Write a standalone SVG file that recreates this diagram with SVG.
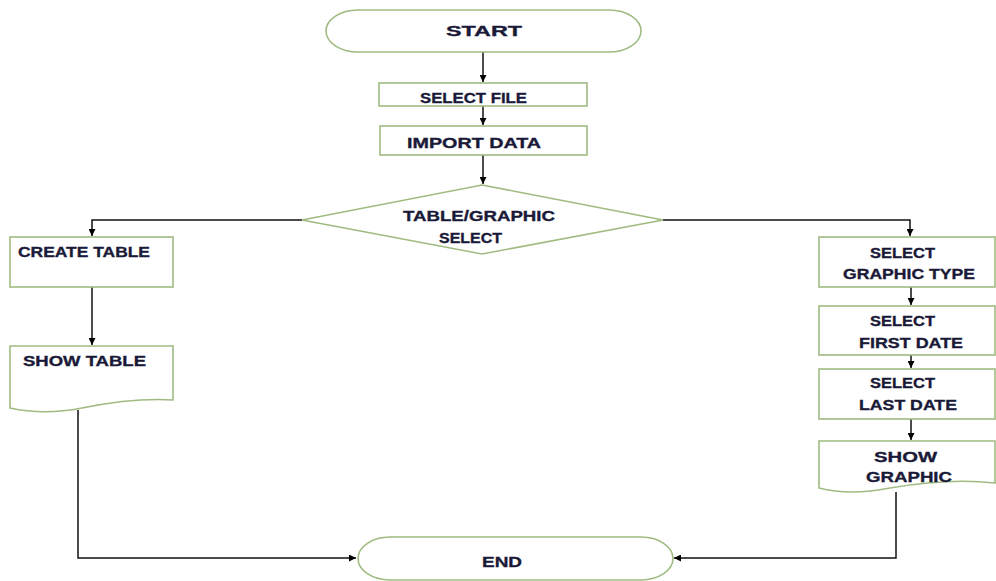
<svg xmlns="http://www.w3.org/2000/svg" width="996" height="581" viewBox="0 0 996 581">
<defs>
<marker id="arr" viewBox="0 0 10 10" refX="10" refY="5" markerWidth="7" markerHeight="7" markerUnits="userSpaceOnUse" orient="auto">
<path d="M0,0 L10,5 L0,10 Z" fill="#000"/>
</marker>
</defs>
<style>
.shape{fill:#fff;stroke:#9fbb80;stroke-width:1.6}
.lbl{font-family:"Liberation Sans",Arial,sans-serif;font-weight:bold;font-size:15.5px;fill:#1a1a38;stroke:#1a1a38;stroke-width:0.35}
.con{fill:none;stroke:#111;stroke-width:1.5}
</style>
<rect width="996" height="581" fill="#fff"/>
<g id="connectors">
<path class="con" d="M483,52 V82" marker-end="url(#arr)"/>
<path class="con" d="M483,106 V125" marker-end="url(#arr)"/>
<path class="con" d="M483,155 V184" marker-end="url(#arr)"/>
<path class="con" d="M302,220 H92 V236" marker-end="url(#arr)"/>
<path class="con" d="M663,220 H910 V236" marker-end="url(#arr)"/>
<path class="con" d="M92,287 V345" marker-end="url(#arr)"/>
<path class="con" d="M911,287 V305" marker-end="url(#arr)"/>
<path class="con" d="M911,355 V368" marker-end="url(#arr)"/>
<path class="con" d="M911,419 V440" marker-end="url(#arr)"/>
<path class="con" d="M78,410 V558 H356" marker-end="url(#arr)" stroke="#333" stroke-width="1.8"/>
<path class="con" d="M896,492 V558 H674" marker-end="url(#arr)" stroke="#666" stroke-width="2"/>
</g>
<g id="start">
<path class="shape" d="M358,10 H609 A32,21 0 0 1 609,52 H358 A32,21 0 0 1 358,10 Z"/>
<text class="lbl" x="446" y="36" font-size="20" textLength="76" lengthAdjust="spacingAndGlyphs">START</text>
</g>
<g id="select-file">
<rect class="shape" x="379" y="83" width="208" height="23"/>
<text class="lbl" x="420" y="103" textLength="107" lengthAdjust="spacingAndGlyphs">SELECT FILE</text>
</g>
<g id="import-data">
<rect class="shape" x="380" y="126" width="207" height="29"/>
<text class="lbl" x="407" y="148" textLength="134" lengthAdjust="spacingAndGlyphs">IMPORT DATA</text>
</g>
<g id="decision">
<polygon class="shape" points="482,185 663,220 482,254 302,220"/>
<text class="lbl" x="403" y="221" textLength="152" lengthAdjust="spacingAndGlyphs">TABLE/GRAPHIC</text>
<text class="lbl" x="439" y="243" textLength="63" lengthAdjust="spacingAndGlyphs">SELECT</text>
</g>
<g id="create-table">
<rect class="shape" x="10" y="237" width="163" height="50"/>
<text class="lbl" x="18" y="257" textLength="132" lengthAdjust="spacingAndGlyphs">CREATE TABLE</text>
</g>
<g id="show-table">
<path class="shape" d="M10,346 H173 V400 C140,398 112,402 82,408 C52,414 28,412 10,408 Z"/>
<text class="lbl" x="23" y="366" textLength="123" lengthAdjust="spacingAndGlyphs">SHOW TABLE</text>
</g>
<g id="select-graphic-type">
<rect class="shape" x="819" y="237" width="176" height="50"/>
<text class="lbl" x="870" y="258" textLength="65" lengthAdjust="spacingAndGlyphs">SELECT</text>
<text class="lbl" x="843" y="279" textLength="132" lengthAdjust="spacingAndGlyphs">GRAPHIC TYPE</text>
</g>
<g id="select-first-date">
<rect class="shape" x="819" y="306" width="176" height="49"/>
<text class="lbl" x="870" y="326" textLength="65" lengthAdjust="spacingAndGlyphs">SELECT</text>
<text class="lbl" x="859" y="348" textLength="104" lengthAdjust="spacingAndGlyphs">FIRST DATE</text>
</g>
<g id="select-last-date">
<rect class="shape" x="819" y="369" width="176" height="50"/>
<text class="lbl" x="870" y="388" textLength="65" lengthAdjust="spacingAndGlyphs">SELECT</text>
<text class="lbl" x="859" y="410" textLength="98" lengthAdjust="spacingAndGlyphs">LAST DATE</text>
</g>
<g id="show-graphic">
<path class="shape" d="M819,441 H995 V483 C960,479 925,482 890,488 C860,494 838,493 819,488 Z"/>
<text class="lbl" x="874" y="462" textLength="63" lengthAdjust="spacingAndGlyphs">SHOW</text>
<text class="lbl" x="866" y="482" textLength="86" lengthAdjust="spacingAndGlyphs">GRAPHIC</text>
</g>
<g id="end">
<path class="shape" d="M390,537 H641 A32,21.5 0 0 1 641,580 H390 A32,21.5 0 0 1 390,537 Z"/>
<text class="lbl" x="482" y="567" textLength="40" lengthAdjust="spacingAndGlyphs">END</text>
</g>
</svg>
